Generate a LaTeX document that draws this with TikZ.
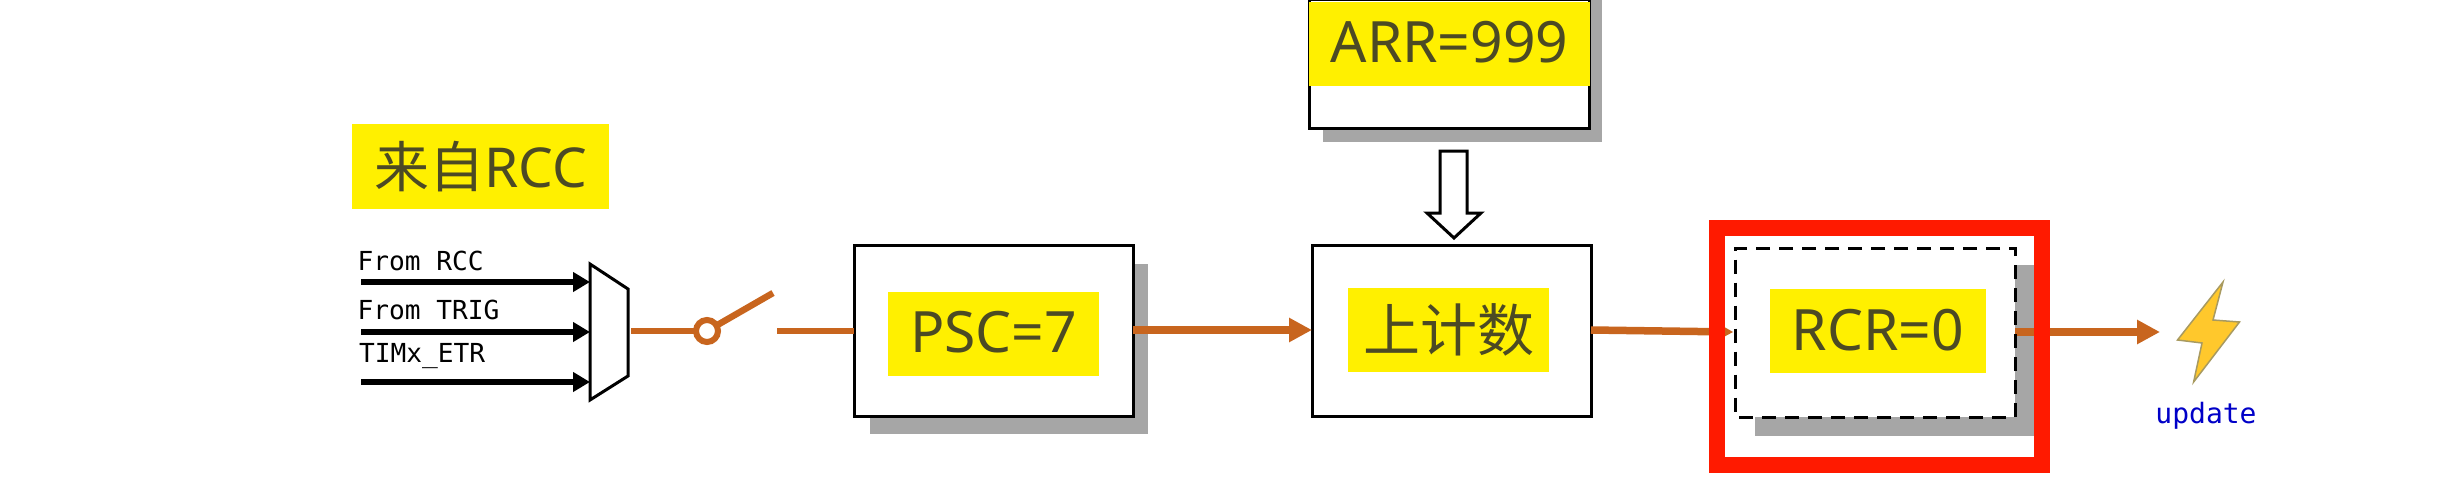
\documentclass[tikz,border=0pt]{standalone}
\usepackage{fontspec}
\setmainfont{Noto Sans}
\setmonofont{DejaVu Sans Mono}
\newfontfamily\cjk{Noto Sans CJK SC}
\usetikzlibrary{arrows.meta}
\definecolor{ylw}{HTML}{FFF000}
\definecolor{olive}{HTML}{4C4A24}
\definecolor{org}{HTML}{C8651E}
\definecolor{shd}{HTML}{A6A6A6}
\definecolor{redb}{HTML}{FF1A00}
\definecolor{boltf}{HTML}{FFC82C}
\definecolor{boltd}{HTML}{A89A60}
\tikzset{
  box/.style={draw=black,line width=3pt,fill=white,rectangle,inner sep=0pt,outer sep=0pt},
  shadowbox/.style={fill=shd,draw=none,rectangle,inner sep=0pt,outer sep=0pt},
  tag/.style={fill=ylw,text=olive,rectangle,inner sep=0pt,outer sep=0pt,font=\fontsize{57}{60}\selectfont},
  monolab/.style={anchor=base west,inner sep=0pt,outer sep=0pt,font=\ttfamily\fontsize{26.2}{30}\selectfont},
  blk/.style={line width=6.5pt,black,-{Triangle[length=17pt,width=19pt]}},
  orgl/.style={line width=6.5pt,org},
  orga/.style={line width=7.5pt,org,-{Triangle[length=23pt,width=23pt]}},
}
\begin{document}
\begin{tikzpicture}[x=1pt,y=-1pt]
\useasboundingbox (0,0) rectangle (2445,495);
\clip (0,0) rectangle (2445,495);
\fill[white] (0,0) rectangle (2445,495);
% mux
\draw[line width=3pt,fill=white,line join=miter] (590,264) -- (628,289) -- (628,376) -- (590,400) -- cycle;
% input labels
\node[monolab] (l1) at (357.5,270) {From RCC};
\node[monolab] (l2) at (357.5,319) {From TRIG};
\node[monolab] (l3) at (359,362) {TIMx\_ETR};
\coordinate (s1) at (361,282); \coordinate (e1) at (590,282);
\coordinate (s2) at (361,332); \coordinate (e2) at (590,332);
\coordinate (s3) at (361,382); \coordinate (e3) at (590,382);
\draw[blk] (s1) -- (e1);
\draw[blk] (s2) -- (e2);
\draw[blk] (s3) -- (e3);
\node[tag,font=\fontsize{55}{60}\selectfont,minimum width=257pt,minimum height=85pt] (rcc) at (480.5,166.5) {{\cjk 来自}RCC};
% shadows
\node[shadowbox,minimum width=278pt,minimum height=170pt] (psh) at (1009,349) {};
\node[shadowbox,minimum width=279pt,minimum height=142pt] (ash) at (1462.5,71) {};
\node[shadowbox,minimum width=281pt,minimum height=171pt] (rsh) at (1895.5,350.5) {};
% boxes
\node[box,minimum width=279pt,minimum height=171pt] (psc) at (993.5,330.5) {};
\node[box,minimum width=279pt,minimum height=171pt] (cnt) at (1451.5,330.5) {};
\node[box,minimum width=280pt,minimum height=128pt] (arr) at (1449,64) {};
\node[box,draw=none,fill=white,minimum width=279.5pt,minimum height=169pt] (rcr) at (1875.25,332.5) {};
% switch
\coordinate (o1) at (631,331);
\node[circle,draw=org,line width=6pt,fill=white,minimum size=22pt,inner sep=0pt,outer sep=0pt] (sw) at (707,331) {};
\coordinate (o2) at (773,293);
\coordinate (o3) at (777,331);
\draw[orgl] (o1) -- (sw.west);
\draw[orgl] (sw.30) -- (o2);
\draw[orgl] (o3) -- (psc.west|-o3);
% orange connectors
\coordinate (p1) at (1132,330);
\draw[orga] (psc.east|-p1) -- (cnt.west|-p1);
\coordinate (c1) at (1591,330);
\coordinate (c2) at (1733.5,332);
\draw[orga] (c1) -- (c2);
\coordinate (r1) at (2015,332);
\coordinate (bt) at (2160,332);
\draw[orga] (r1) -- (bt);
% dashed box
\draw[line width=3pt,dash pattern=on 14pt off 9pt] (rcr.south east) -- (rcr.north east) -- (rcr.north west) -- (rcr.south west) -- cycle;
% yellow tags
\node[tag,text depth=4pt,minimum width=211pt,minimum height=84pt] (psctag) at (993.5,334) {PSC=7};
\node[tag,minimum width=201pt,minimum height=84pt] (cnttag) at (1448.5,330) {\cjk 上计数};
\node[tag,text depth=4pt,minimum width=281pt,minimum height=84pt] (arrtag) at (1449.5,44) {ARR=999};
\node[tag,text depth=3pt,minimum width=216pt,minimum height=84pt] (rcrtag) at (1878,331) {RCR=0};
% hollow arrow
\draw[line width=3pt,fill=white,line join=miter] (1440,151) -- (1467,151) -- (1467,213) -- (1481,213) -- (1454,238) -- (1427,213) -- (1440,213) -- cycle;
% red frame
\node[rectangle,draw=redb,line width=16pt,fill=none,inner sep=0pt,outer sep=0pt,minimum width=325pt,minimum height=237pt] (redf) at (1879.5,346.5) {};
% bolt
\draw[fill=boltf,draw=boltd,line width=1.5pt,line join=miter] (2223,282) -- (2213,320) -- (2239.5,322) -- (2193.6,382) -- (2202,343) -- (2177.5,340) -- cycle;
\node[anchor=base,inner sep=0pt,outer sep=0pt,font=\ttfamily\fontsize{28}{30}\selectfont,text={rgb,255:red,0;green,0;blue,200}] (upd) at (2206,423) {update};
\end{tikzpicture}
\end{document}
